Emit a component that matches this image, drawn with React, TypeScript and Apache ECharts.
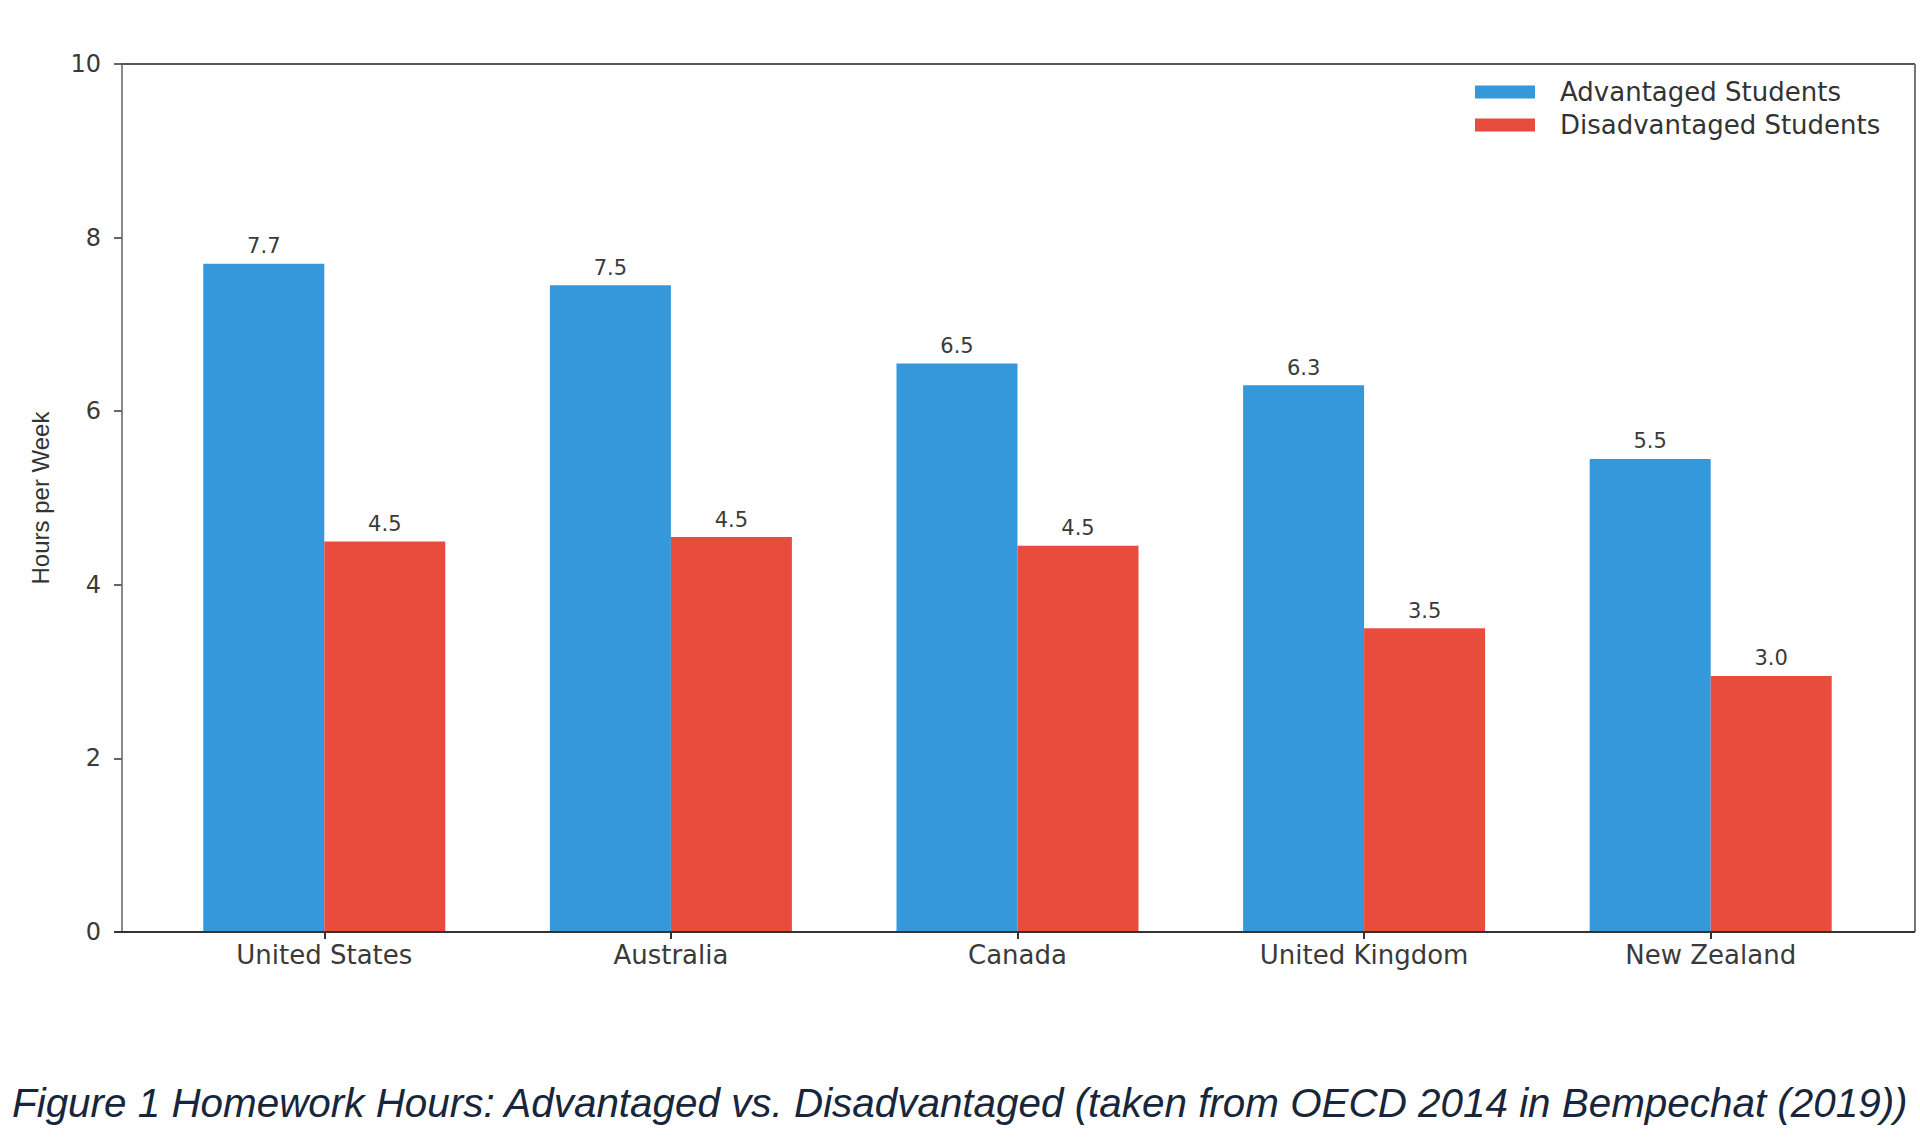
import React, { useEffect, useRef } from "react";
import * as echarts from "echarts";

const categories = ["United States", "Australia", "Canada", "United Kingdom", "New Zealand"];
const advantaged = [7.7, 7.45, 6.55, 6.3, 5.45];
const disadvantaged = [4.5, 4.55, 4.45, 3.5, 2.95];
const advantagedLabels = ["7.7", "7.5", "6.5", "6.3", "5.5"];
const disadvantagedLabels = ["4.5", "4.5", "4.5", "3.5", "3.0"];
const seriesNames = ["Advantaged Students", "Disadvantaged Students"];
const caption =
  "Figure 1 Homework Hours: Advantaged vs. Disadvantaged (taken from OECD 2014 in Bempechat (2019))";

const W = 1920;
const H = 1148;
const FRAME = { left: 122, top: 64, right: 1915, bottom: 932 };
const SANS = '"DejaVu Sans", sans-serif';

export default function App() {
  const ref = useRef<HTMLDivElement>(null);
  useEffect(() => {
    if (!ref.current) return;
    const chart = echarts.init(ref.current, undefined, { renderer: "svg" });
    const labelStyle = {
      show: true,
      position: "top" as const,
      distance: 7,
      fontFamily: SANS,
      fontSize: 21,
      color: "#3a3a3a",
    };
    chart.setOption({
      animation: false,
      backgroundColor: "#ffffff",
      grid: { left: 151, right: 36, top: FRAME.top, bottom: H - FRAME.bottom, containLabel: false },
      legend: {
        data: seriesNames,
        orient: "vertical",
        left: 1475,
        top: 79,
        padding: 0,
        itemWidth: 60,
        itemHeight: 13,
        itemGap: 7,
        icon: "rect",
        formatter: "{t|{name}}",
        textStyle: {
          fontFamily: SANS,
          fontSize: 26,
          color: "#333",
          lineHeight: 26,
          rich: { t: { padding: [0, 0, 0, 20], fontFamily: SANS, fontSize: 26, color: "#333", lineHeight: 26 } },
        },
      },
      xAxis: {
        type: "category",
        data: categories,
        axisLine: { show: false },
        axisTick: { show: true, alignWithLabel: true, length: 7, lineStyle: { color: "#333", width: 2 } },
        axisLabel: { margin: 10, fontFamily: SANS, fontSize: 26, color: "#3a3a3a", interval: 0 },
        splitLine: { show: false },
      },
      yAxis: {
        type: "value",
        min: 0,
        max: 10,
        interval: 2,
        offset: 29,
        name: "Hours per Week",
        nameLocation: "middle",
        nameRotate: 90,
        nameGap: 70,
        nameTextStyle: { fontFamily: '"Liberation Sans", Arial, sans-serif', fontSize: 24, color: "#333" },
        axisLine: { show: true, lineStyle: { color: "#888", width: 2 } },
        axisTick: { show: true, length: 8, lineStyle: { color: "#666", width: 2 } },
        axisLabel: { margin: 21, fontFamily: SANS, fontSize: 24, color: "#3a3a3a" },
        splitLine: { show: false },
      },
      series: [
        {
          name: seriesNames[0],
          type: "bar",
          data: advantaged,
          barWidth: 121,
          barGap: "0%",
          itemStyle: { color: "#3498db" },
          label: { ...labelStyle, formatter: (p: any) => advantagedLabels[p.dataIndex] },
        },
        {
          name: seriesNames[1],
          type: "bar",
          data: disadvantaged,
          barWidth: 121,
          barGap: "0%",
          itemStyle: { color: "#e74c3c" },
          label: { ...labelStyle, formatter: (p: any) => disadvantagedLabels[p.dataIndex] },
        },
      ],
      graphic: [
        {
          type: "line",
          z: 100,
          shape: { x1: FRAME.left, y1: FRAME.top, x2: FRAME.right, y2: FRAME.top },
          style: { stroke: "#555", lineWidth: 2 },
        },
        {
          type: "line",
          z: 100,
          shape: { x1: FRAME.right, y1: FRAME.top, x2: FRAME.right, y2: FRAME.bottom },
          style: { stroke: "#777", lineWidth: 2 },
        },
        {
          type: "line",
          z: 100,
          shape: { x1: FRAME.left - 8, y1: FRAME.bottom, x2: FRAME.right, y2: FRAME.bottom },
          style: { stroke: "#333", lineWidth: 2 },
        },
        {
          type: "text",
          z: 100,
          x: 12,
          y: 1103,
          style: {
            text: caption,
            font: 'italic 40.4px "Liberation Sans", Arial, sans-serif',
            fill: "#17263b",
            verticalAlign: "middle",
            align: "left",
          },
        },
      ],
    });
    return () => chart.dispose();
  }, []);
  return (
    <div
      ref={ref}
      style={{ position: "absolute", left: 0, top: 0, width: W, height: H, background: "#fff" }}
    />
  );
}
